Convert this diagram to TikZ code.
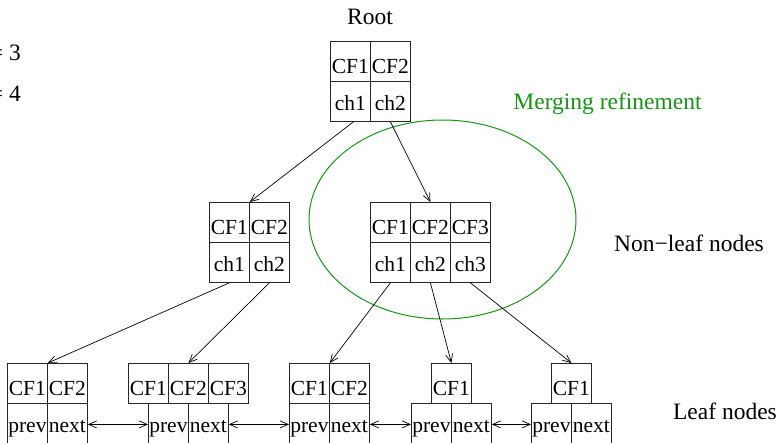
\documentclass[tikz,border=0pt]{standalone}
\usepackage{fontspec}
\setmainfont{Liberation Serif}
\usetikzlibrary{arrows.meta}
\definecolor{mergegreen}{RGB}{20,150,20}
\newcommand{\cellt}[1]{\makebox[0pt]{#1}}
\begin{document}
\begin{tikzpicture}[x=1pt,y=-1pt,
  every node/.style={font=\fontsize{23.5}{28}\selectfont},
  cell/.style={draw=black!85, line width=0.8pt, minimum width=40pt, minimum height=40pt, inner sep=0pt, anchor=north west, font=\fontsize{21.5}{26}\selectfont},
  cfcell/.style={cell, text height=24pt, text depth=0pt},
  chcell/.style={cell, text height=18pt, text depth=0pt},
  link/.style={line width=0.7pt, -{Straight Barb[length=8pt,width=7pt]}},
  dlink/.style={line width=0.7pt, {Straight Barb[length=8pt,width=7pt]}-{Straight Barb[length=8pt,width=7pt]}},
  label/.style={inner sep=0pt}]
\useasboundingbox (0,0) rectangle (782,442);
% left labels (cut off)
\node[label, anchor=east] (lb) at (21,53) {= 3};
\node[label, anchor=east] (ll) at (21,94) {= 4};
% root
\node[label] (rootlbl) at (370,17) {Root};
\node[cfcell] (r1) at (330,41) {\cellt{CF1}};
\node[cfcell] (r2) at (370,41) {\cellt{CF2}};
\node[chcell] (r3) at (330,81) {\cellt{ch1}};
\node[chcell] (r4) at (370,81) {\cellt{ch2}};
% middle left
\node[cfcell] (ml1) at (209,202) {\cellt{CF1}};
\node[cfcell] (ml2) at (249,202) {\cellt{CF2}};
\node[chcell] (ml3) at (209,242) {\cellt{ch1}};
\node[chcell] (ml4) at (249,242) {\cellt{ch2}};
% middle right
\node[cfcell] (mr1) at (370,202) {\cellt{CF1}};
\node[cfcell] (mr2) at (410,202) {\cellt{CF2}};
\node[cfcell] (mr3) at (450,202) {\cellt{CF3}};
\node[chcell] (mr4) at (370,242) {\cellt{ch1}};
\node[chcell] (mr5) at (410,242) {\cellt{ch2}};
\node[chcell] (mr6) at (450,242) {\cellt{ch3}};
% leaves
\node[cfcell] (l1a) at (7,363) {\cellt{CF1}};
\node[cfcell] (l1b) at (47,363) {\cellt{CF2}};
\node[chcell] (l1p) at (7,403) {\cellt{prev}};
\node[chcell] (l1n) at (47,403) {\cellt{next}};
\node[cfcell] (l2a) at (128,363) {\cellt{CF1}};
\node[cfcell] (l2b) at (168,363) {\cellt{CF2}};
\node[cfcell] (l2c) at (208,363) {\cellt{CF3}};
\node[chcell] (l2p) at (148,403) {\cellt{prev}};
\node[chcell] (l2n) at (188,403) {\cellt{next}};
\node[cfcell] (l3a) at (289,363) {\cellt{CF1}};
\node[cfcell] (l3b) at (329,363) {\cellt{CF2}};
\node[chcell] (l3p) at (289,403) {\cellt{prev}};
\node[chcell] (l3n) at (329,403) {\cellt{next}};
\node[cfcell] (l4a) at (431,363) {\cellt{CF1}};
\node[chcell] (l4p) at (411,403) {\cellt{prev}};
\node[chcell] (l4n) at (451,403) {\cellt{next}};
\node[cfcell] (l5a) at (551,363) {\cellt{CF1}};
\node[chcell] (l5p) at (531,403) {\cellt{prev}};
\node[chcell] (l5n) at (571,403) {\cellt{next}};
% ellipse
\draw[mergegreen, line width=1pt] (442.5,219.5) ellipse [x radius=133.5, y radius=99.5];
\node[label, text=mergegreen] (merge) at (607.5,104) {Merging refinement};
\node[label] (nonleaf) at (689,243) {Non\textminus leaf nodes};
\node[label] (leaf) at (725,411) {Leaf nodes};
% tree connectors
\draw[link] ([xshift=3pt]r3.south) -- (ml1.north east);
\draw[link] (r4.south) -- (mr2.north);
\draw[link] (ml3.south) -- (l1a.north east);
\draw[link] (ml4.south) -- (l2b.north);
\draw[link] (mr4.south) -- (l3a.north east);
\draw[link] (mr5.south) -- (l4a.north);
\draw[link] (mr6.south) -- (l5a.north);
% leaf chain
\draw[dlink] ([yshift=-1pt]l1n.east) -- ([yshift=-1pt]l2p.west);
\draw[dlink] ([yshift=-1pt]l2n.east) -- ([yshift=-1pt]l3p.west);
\draw[dlink] ([yshift=-1pt]l3n.east) -- ([yshift=-1pt]l4p.west);
\draw[dlink] ([yshift=-1pt]l4n.east) -- ([yshift=-1pt]l5p.west);
\end{tikzpicture}
\end{document}
